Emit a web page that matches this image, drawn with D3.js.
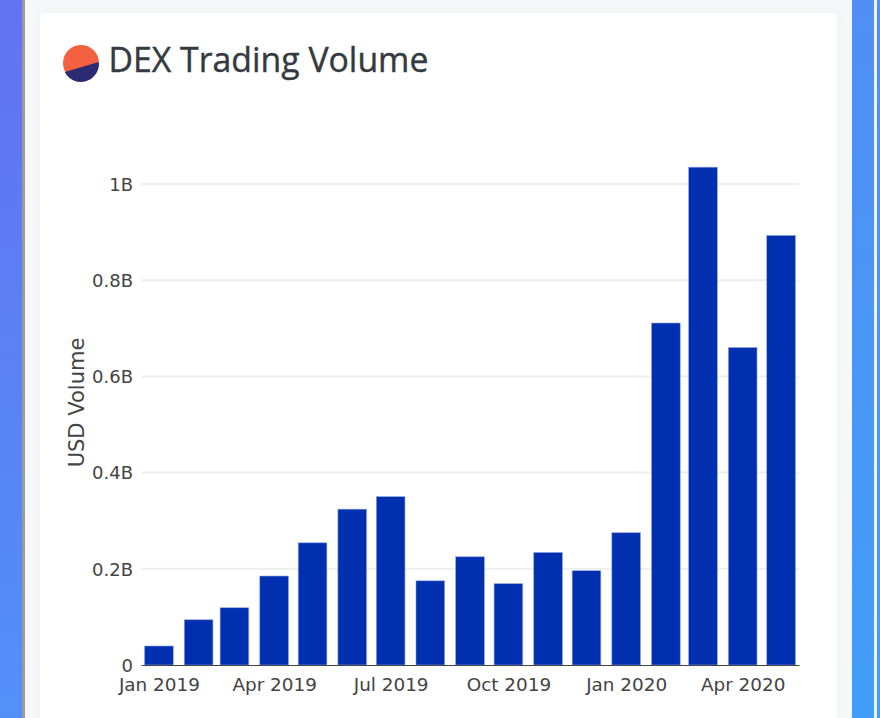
<!DOCTYPE html>
<html><head><meta charset="utf-8">
<script src="https://cdn.jsdelivr.net/npm/d3@7/dist/d3.min.js"></script>
<style>html,body{margin:0;padding:0;background:#f5f7f9;overflow:hidden}svg{display:block}</style>
</head><body><svg id="c" width="880" height="718"></svg>
<script>
const months = ["2019-01","2019-02","2019-03","2019-04","2019-05","2019-06","2019-07","2019-08","2019-09","2019-10","2019-11","2019-12","2020-01","2020-02","2020-03","2020-04","2020-05"];
const volumes = [0.0395,0.094,0.119,0.185,0.254,0.324,0.35,0.175,0.225,0.169,0.234,0.196,0.275,0.711,1.035,0.66,0.893];
const xTicks = ["2019-01","2019-04","2019-07","2019-10","2020-01","2020-04"];
const yTicks = [0,0.2,0.4,0.6,0.8,1];
const title = "DEX Trading Volume";
const yTitle = "USD Volume";

const parse = d3.utcParse("%Y-%m");
const DAY = 864e5;
const svg = d3.select("#c");
const defs = svg.append("defs");
function grad(id, a, b){
  const g = defs.append("linearGradient").attr("id",id).attr("x1",0).attr("y1",0).attr("x2",0).attr("y2",1);
  g.append("stop").attr("offset",0).attr("stop-color",a);
  g.append("stop").attr("offset",1).attr("stop-color",b);
}
grad("gl","#6272f0","#5290f8");
grad("gr","#508ef3","#429ff9");
const shadow = defs.append("filter").attr("id","sh").attr("x","-5%").attr("y","-5%").attr("width","110%").attr("height","110%");
shadow.append("feDropShadow").attr("dx",0).attr("dy",0).attr("stdDeviation",3).attr("flood-color","#8090a0").attr("flood-opacity",0.07);

svg.append("rect").attr("width",880).attr("height",718).attr("fill","#f5f7f9");
svg.append("rect").attr("width",22).attr("height",718).attr("fill","url(#gl)");
svg.append("rect").attr("x",22).attr("width",3).attr("height",718).attr("fill","#9a9a9a");
svg.append("rect").attr("x",852).attr("width",22).attr("height",718).attr("fill","url(#gr)");
svg.append("rect").attr("x",874).attr("width",3).attr("height",718).attr("fill","#eef1f5");
svg.append("rect").attr("x",877).attr("width",3).attr("height",718).attr("fill","url(#gr)");
svg.append("rect").attr("x",40).attr("y",13).attr("width",797).attr("height",740).attr("rx",5).attr("fill","#fff").attr("filter","url(#sh)");

// logo
const cx=81, cy=63, r=18;
svg.append("circle").attr("cx",cx).attr("cy",cy).attr("r",r).attr("fill","#f46140");
svg.append("path").attr("fill","#2c2a72")
  .attr("d",`M${cx-16.2},${cy+9} L${cx+17.8},${cy-0.9} A${r},${r} 0 0 1 ${cx-16.2},${cy+9} Z`);

svg.append("text").attr("x",108.5).attr("y",72).attr("font-family","'Open Sans','Noto Sans',sans-serif")
  .attr("font-size",33.8).attr("font-weight",500).attr("fill","#343a40")
  .attr("stroke","#343a40").attr("stroke-width",0.4).text(title);

const x = d3.scaleUtc().domain([new Date(parse("2019-01").getTime()-14*DAY), new Date(parse("2020-05").getTime()+14*DAY)]).range([141,799]);
const y = d3.scaleLinear().domain([0,1]).range([665,184]);
const tickFont = "'DejaVu Sans',Verdana,sans-serif";

// grid
svg.append("g").selectAll("line").data(yTicks.slice(1)).join("line")
  .attr("x1",141).attr("x2",799).attr("y1",d=>y(d)).attr("y2",d=>y(d))
  .attr("stroke","#eeeeee").attr("stroke-width",2);

// bars
const half = 11.2*DAY;
svg.append("g").selectAll("rect").data(months.map((m,i)=>({d:parse(m),v:volumes[i]}))).join("rect")
  .attr("x",d=>x(new Date(d.d.getTime()-half)))
  .attr("width",d=>x(new Date(d.d.getTime()+half))-x(new Date(d.d.getTime()-half)))
  .attr("y",d=>y(d.v)).attr("height",d=>y(0)-y(d.v))
  .attr("fill","#002fb0").attr("stroke","#8fa4e0").attr("stroke-width",0.6);

// axes
const gx = svg.append("g").attr("transform","translate(0,665)")
  .call(d3.axisBottom(x).tickValues(xTicks.map(parse)).tickFormat(d3.utcFormat("%b %Y")).tickSize(0).tickPadding(12.5));
gx.select(".domain").attr("stroke","#444").attr("stroke-width",1.2);
gx.selectAll("text").attr("font-family",tickFont).attr("font-size",18.4).attr("fill","#444");

const gy = svg.append("g").attr("transform","translate(141,0.5)")
  .call(d3.axisLeft(y).tickValues(yTicks).tickFormat(d=>d===0?"0":d===1?"1B":d3.format(".1f")(d)+"B").tickSize(0).tickPadding(8));
gy.select(".domain").remove();
gy.selectAll("text").attr("font-family",tickFont).attr("font-size",18).attr("fill","#444");

svg.append("text").attr("transform","translate(84,402.5) rotate(-90)").attr("text-anchor","middle")
  .attr("font-family",tickFont).attr("font-size",21).attr("fill","#444").text(yTitle);
</script></body></html>
